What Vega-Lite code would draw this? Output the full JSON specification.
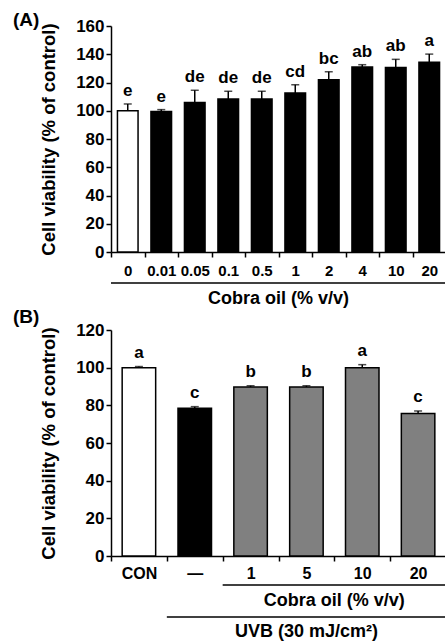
{
  "$schema": "https://vega.github.io/schema/vega-lite/v6.json",
  "padding": {"left": 13, "top": 11, "right": 0, "bottom": 0},
  "background": "white",
  "spacing": 78,
  "bounds": "flush",
  "resolve": {"scale": {"fill": "independent"}},
  "config": {
    "view": {"stroke": null},
    "font": "Liberation Sans",
    "axis": {
      "domainColor": "black", "domainWidth": 1.5,
      "tickColor": "black", "tickWidth": 1.5, "tickSize": 5,
      "labelFont": "Liberation Sans", "labelFontWeight": "bold", "labelColor": "black",
      "titleFont": "Liberation Sans", "titleFontWeight": "bold", "titleColor": "black",
      "grid": false
    },
    "text": {"font": "Liberation Sans", "fontWeight": "bold", "color": "black"}
  },
  "vconcat": [
    {
      "width": 335, "height": 226,
      "title": {"text": "(A)", "anchor": "start", "frame": "group", "dx": -98, "dy": 13, "offset": 0, "fontSize": 19, "font": "Liberation Sans", "fontWeight": "bold", "color": "black"},
      "resolve": {"scale": {"x": "independent", "y": "independent"}},
      "layer": [
        {
          "data": {"values": [
            {"conc": "0", "mean": 100, "upper": 104.8, "letter": "e", "group": "control"},
            {"conc": "0.01", "mean": 99.5, "upper": 100.8, "letter": "e", "group": "treat"},
            {"conc": "0.05", "mean": 105.8, "upper": 114.5, "letter": "de", "group": "treat"},
            {"conc": "0.1", "mean": 108.3, "upper": 113.8, "letter": "de", "group": "treat"},
            {"conc": "0.5", "mean": 108.3, "upper": 113.8, "letter": "de", "group": "treat"},
            {"conc": "1", "mean": 112.6, "upper": 118.4, "letter": "cd", "group": "treat"},
            {"conc": "2", "mean": 122, "upper": 127.6, "letter": "bc", "group": "treat"},
            {"conc": "4", "mean": 131, "upper": 132.6, "letter": "ab", "group": "treat"},
            {"conc": "10", "mean": 130.6, "upper": 136.4, "letter": "ab", "group": "treat"},
            {"conc": "20", "mean": 134.3, "upper": 140.1, "letter": "a", "group": "treat"}
          ]},
          "encoding": {
            "x": {"field": "conc", "type": "nominal", "sort": null,
                  "scale": {"domain": ["0", "0.01", "0.05", "0.1", "0.5", "1", "2", "4", "10", "20"], "paddingInner": 0, "paddingOuter": 0},
                  "axis": {"title": null, "labelAngle": 0, "labelFontSize": 15, "labelPadding": 6, "tickBand": "extent"}},
            "y": {"field": "mean", "type": "quantitative",
                  "scale": {"domain": [0, 160], "nice": false},
                  "axis": {"title": "Cell viability (% of control)", "values": [0, 20, 40, 60, 80, 100, 120, 140, 160], "labelFontSize": 17, "labelPadding": 2, "titleFontSize": 18.5, "titlePadding": 17}}
          },
          "layer": [
            {"mark": {"type": "bar", "width": {"band": 0.615}, "stroke": "black", "strokeWidth": 1.5},
             "encoding": {"fill": {"field": "group", "type": "nominal", "scale": {"domain": ["control", "treat"], "range": ["white", "black"]}, "legend": null}}},
            {"mark": {"type": "rule", "strokeWidth": 1.5, "color": "black"},
             "encoding": {"y2": {"field": "upper"}}},
            {"mark": {"type": "tick", "orient": "horizontal", "size": 8, "thickness": 1.5, "color": "black"},
             "encoding": {"y": {"field": "upper", "type": "quantitative"}}},
            {"mark": {"type": "text", "dy": -8, "baseline": "alphabetic", "fontSize": 17, "fontWeight": "bold", "color": "black"},
             "encoding": {"y": {"field": "upper", "type": "quantitative"}, "text": {"field": "letter"}}}
          ]
        },
        {
          "data": {"values": [{"label": "Cobra oil (% v/v)", "start": 0, "end": 10, "mid": 5}]},
          "encoding": {
            "y": {"datum": -22, "type": "quantitative", "scale": {"domain": [0, 160], "nice": false}, "axis": null}
          },
          "layer": [
            {"mark": {"type": "rule", "strokeWidth": 1.5, "color": "black"},
             "encoding": {"x": {"field": "start", "type": "quantitative", "scale": {"domain": [0, 10], "nice": false, "zero": false}, "axis": null}, "x2": {"field": "end"}}},
            {"mark": {"type": "text", "dy": 21, "baseline": "alphabetic", "fontSize": 18, "fontWeight": "bold", "color": "black"},
             "encoding": {"x": {"field": "mid", "type": "quantitative", "scale": {"domain": [0, 10], "nice": false, "zero": false}, "axis": null}, "text": {"field": "label"}}}
          ]
        }
      ]
    },
    {
      "width": 335, "height": 226,
      "title": {"text": "(B)", "anchor": "start", "frame": "group", "dx": -98, "dy": 6, "offset": 0, "fontSize": 19, "font": "Liberation Sans", "fontWeight": "bold", "color": "black"},
      "resolve": {"scale": {"x": "independent", "y": "independent"}},
      "layer": [
        {
          "data": {"values": [
            {"cond": "CON", "mean": 100, "upper": 100.6, "letter": "a", "group": "control"},
            {"cond": "—", "mean": 78.4, "upper": 79.3, "letter": "c", "group": "uvb"},
            {"cond": "1", "mean": 89.7, "upper": 90.4, "letter": "b", "group": "oil"},
            {"cond": "5", "mean": 89.7, "upper": 90.4, "letter": "b", "group": "oil"},
            {"cond": "10", "mean": 100, "upper": 101.6, "letter": "a", "group": "oil"},
            {"cond": "20", "mean": 75.6, "upper": 77, "letter": "c", "group": "oil"}
          ]},
          "encoding": {
            "x": {"field": "cond", "type": "nominal", "sort": null,
                  "scale": {"domain": ["CON", "—", "1", "5", "10", "20"], "paddingInner": 0, "paddingOuter": 0},
                  "axis": {"title": null, "labelAngle": 0, "labelFontSize": 16, "labelPadding": 4, "tickBand": "extent"}},
            "y": {"field": "mean", "type": "quantitative",
                  "scale": {"domain": [0, 120], "nice": false},
                  "axis": {"title": "Cell viability (% of control)", "values": [0, 20, 40, 60, 80, 100, 120], "labelFontSize": 17, "labelPadding": 2, "titleFontSize": 18.5, "titlePadding": 17}}
          },
          "layer": [
            {"mark": {"type": "bar", "width": {"band": 0.6}, "stroke": "black", "strokeWidth": 1.5},
             "encoding": {"fill": {"field": "group", "type": "nominal", "scale": {"domain": ["control", "uvb", "oil"], "range": ["white", "black", "#808080"]}, "legend": null}}},
            {"mark": {"type": "rule", "strokeWidth": 1.5, "color": "black"},
             "encoding": {"y2": {"field": "upper"}}},
            {"mark": {"type": "tick", "orient": "horizontal", "size": 8, "thickness": 1.5, "color": "black"},
             "encoding": {"y": {"field": "upper", "type": "quantitative"}}},
            {"mark": {"type": "text", "dy": -9, "baseline": "alphabetic", "fontSize": 17, "fontWeight": "bold", "color": "black"},
             "encoding": {"y": {"field": "upper", "type": "quantitative"}, "text": {"field": "letter"}}}
          ]
        },
        {
          "data": {"values": [{"label": "Cobra oil (% v/v)", "start": 2, "end": 6, "mid": 4}]},
          "encoding": {
            "y": {"datum": -15.4, "type": "quantitative", "scale": {"domain": [0, 120], "nice": false}, "axis": null}
          },
          "layer": [
            {"mark": {"type": "rule", "strokeWidth": 1.5, "color": "black"},
             "encoding": {"x": {"field": "start", "type": "quantitative", "scale": {"domain": [0, 6], "nice": false, "zero": false}, "axis": null}, "x2": {"field": "end"}}},
            {"mark": {"type": "text", "dy": 21, "baseline": "alphabetic", "fontSize": 18, "fontWeight": "bold", "color": "black"},
             "encoding": {"x": {"field": "mid", "type": "quantitative", "scale": {"domain": [0, 6], "nice": false, "zero": false}, "axis": null}, "text": {"field": "label"}}}
          ]
        },
        {
          "data": {"values": [{"label": "UVB (30 mJ/cm²)", "start": 1, "end": 6, "mid": 3.5}]},
          "encoding": {
            "y": {"datum": -32.4, "type": "quantitative", "scale": {"domain": [0, 120], "nice": false}, "axis": null}
          },
          "layer": [
            {"mark": {"type": "rule", "strokeWidth": 1.5, "color": "black"},
             "encoding": {"x": {"field": "start", "type": "quantitative", "scale": {"domain": [0, 6], "nice": false, "zero": false}, "axis": null}, "x2": {"field": "end"}}},
            {"mark": {"type": "text", "dy": 20, "baseline": "alphabetic", "fontSize": 18, "fontWeight": "bold", "color": "black"},
             "encoding": {"x": {"field": "mid", "type": "quantitative", "scale": {"domain": [0, 6], "nice": false, "zero": false}, "axis": null}, "text": {"field": "label"}}}
          ]
        }
      ]
    }
  ]
}
